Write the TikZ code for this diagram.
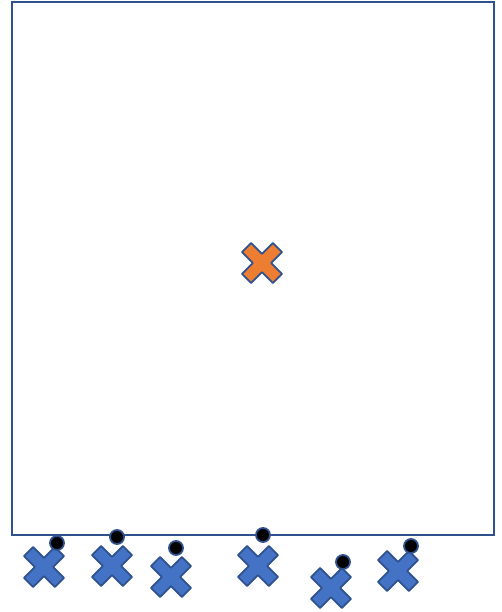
\documentclass[tikz,border=0pt]{standalone}
\usetikzlibrary{positioning}

\definecolor{edgeblue}{HTML}{2F528F}
\definecolor{crossblue}{HTML}{4472C4}
\definecolor{crossorange}{HTML}{ED7D31}

\tikzset{
  pics/mult/.style={code={
    \draw[#1] (0,9.2) -- (10.8,20) -- (20,10.8) -- (9.2,0) -- (20,-10.8)
      -- (10.8,-20) -- (0,-9.2) -- (-10.8,-20) -- (-20,-10.8) -- (-9.2,0)
      -- (-20,10.8) -- (-10.8,20) -- cycle;
  }}
}

\begin{document}
\begin{tikzpicture}[x=1pt, y=-1pt,
    frame/.style = {draw=edgeblue, line width=2.2pt},
    blueX/.style = {fill=crossblue, draw=edgeblue, line width=1.8pt, line join=round},
    orangeX/.style = {fill=crossorange, draw=edgeblue, line width=1.8pt, line join=round},
    dot/.style = {circle, fill=black, draw=edgeblue, line width=1.8pt,
                  minimum size=14pt, inner sep=0pt}]
    \useasboundingbox (0,0) rectangle (501,612);

    \draw[frame] (12,2) rectangle (494,535);

    % the one in the middle
    \coordinate (mid) at (262,263);
    \pic at (mid) {mult=orangeX};

    % crosses along the bottom, each with its dot
    \foreach \name/\cx/\cy/\dx/\dy in {a/44/567/57/543, b/112/566/117/537,
        c/171/577/176/548, d/258/566/263/535, e/331/588/343/562,
        f/398/571/411/546} {
      \coordinate (\name) at (\cx,\cy);
      \pic at (\name) {mult=blueX};
      \node[dot] (dot-\name) at (\dx,\dy) {};
    }
  \end{tikzpicture}
\end{document}
